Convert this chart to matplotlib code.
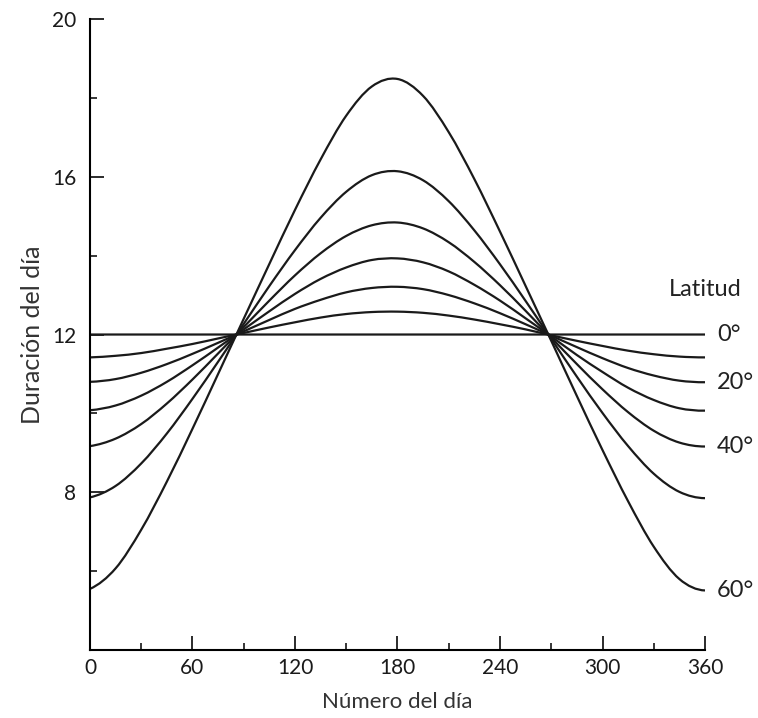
import matplotlib
matplotlib.use("Agg")
import matplotlib.pyplot as plt
from matplotlib.path import Path
from matplotlib.patches import PathPatch

plt.rcParams['font.family'] = ['Lato', 'DejaVu Sans']

# dias del año (cada 15 dias)
dias = [0, 15, 30, 45, 60, 75, 90, 105, 120, 135, 150, 165, 180,
        195, 210, 225, 240, 255, 270, 285, 300, 315, 330, 345, 360]

# duracion del dia (horas), por latitud
lat_0 = [12.0] * 25
lat_10 = [11.42, 11.46, 11.53, 11.64, 11.76, 11.90, 12.04, 12.18, 12.31, 12.43, 12.52, 12.57, 12.58,
          12.55, 12.48, 12.38, 12.26, 12.13, 11.98, 11.84, 11.71, 11.59, 11.50, 11.44, 11.42]
lat_20 = [10.80, 10.87, 11.03, 11.25, 11.51, 11.79, 12.08, 12.37, 12.65, 12.88, 13.07, 13.18, 13.21,
          13.15, 13.00, 12.79, 12.54, 12.26, 11.97, 11.68, 11.40, 11.15, 10.96, 10.83, 10.79]
lat_30 = [10.08, 10.20, 10.45, 10.80, 11.22, 11.67, 12.13, 12.59, 13.03, 13.41, 13.70, 13.89, 13.93,
          13.83, 13.60, 13.26, 12.86, 12.41, 11.95, 11.48, 11.05, 10.65, 10.34, 10.13, 10.07]
lat_40 = [9.17, 9.36, 9.73, 10.25, 10.86, 11.52, 12.19, 12.86, 13.50, 14.06, 14.50, 14.77, 14.84,
          14.69, 14.34, 13.84, 13.25, 12.60, 11.92, 11.25, 10.61, 10.03, 9.56, 9.26, 9.16]
lat_50 = [7.87, 8.16, 8.73, 9.49, 10.37, 11.31, 12.27, 13.23, 14.14, 14.96, 15.62, 16.04, 16.14,
          15.91, 15.38, 14.64, 13.78, 12.85, 11.89, 10.93, 10.01, 9.17, 8.47, 8.01, 7.85]
lat_60 = [5.55, 6.07, 7.05, 8.27, 9.61, 11.00, 12.40, 13.79, 15.16, 16.44, 17.55, 18.29, 18.48,
          18.05, 17.13, 15.94, 14.61, 13.23, 11.84, 10.44, 9.07, 7.77, 6.62, 5.80, 5.51]

curvas = [lat_0, lat_10, lat_20, lat_30, lat_40, lat_50, lat_60]
etiquetas = {0: "0°", 2: "20°", 4: "40°", 6: "60°"}


def curva_suave(xs, ys):
    # trazo bezier que pasa por los puntos leidos (catmull-rom)
    pts = list(zip(xs, ys))
    n = len(pts)
    # puntos fantasma en los extremos (tangente cuadratica)
    ini = tuple(3 * pts[0][k] - 3 * pts[1][k] + pts[2][k] for k in range(2))
    fin = tuple(3 * pts[-1][k] - 3 * pts[-2][k] + pts[-3][k] for k in range(2))
    ext = [ini] + pts + [fin]
    verts = [pts[0]]
    codes = [Path.MOVETO]
    for i in range(1, n):
        p0, p1, p2, p3 = ext[i - 1], ext[i], ext[i + 1], ext[i + 2]
        c1 = (p1[0] + (p2[0] - p0[0]) / 6, p1[1] + (p2[1] - p0[1]) / 6)
        c2 = (p2[0] - (p3[0] - p1[0]) / 6, p2[1] - (p3[1] - p1[1]) / 6)
        verts += [c1, c2, p2]
        codes += [Path.CURVE4] * 3
    return Path(verts, codes)


fig = plt.figure(figsize=(7.58, 7.18), dpi=100)
ax = fig.add_axes([0.1187, 0.0947, 0.8114, 0.8788])

for i, c in enumerate(curvas):
    ax.add_patch(PathPatch(curva_suave(dias, c), fill=False, edgecolor="#1a1a1a",
                           lw=1.6, capstyle="butt"))
    if i in etiquetas:
        ax.text(367, c[-1], etiquetas[i], fontsize=17, ha="left", va="center",
                color="#222222", clip_on=False)

ax.text(360, 13.15, "Latitud", fontsize=17, ha="center", va="center",
        color="#222222", clip_on=False)

ax.set_xlim(0, 360)
ax.set_ylim(4, 20)
ax.set_xticks(range(0, 361, 60))
ax.set_xticks(range(30, 361, 60), minor=True)
ax.set_yticks([8, 12, 16, 20])
ax.set_yticks([6, 10, 14, 18], minor=True)

ax.spines['top'].set_visible(False)
ax.spines['right'].set_visible(False)
ax.spines['left'].set_linewidth(1.5)
ax.spines['bottom'].set_linewidth(1.5)

ax.tick_params(axis='both', which='major', direction='in', length=10, width=1.3,
               labelsize=15, colors="#1a1a1a")
ax.tick_params(axis='both', which='minor', direction='in', length=5, width=1.1)
ax.tick_params(axis='x', pad=6)
ax.tick_params(axis='y', pad=10)

ax.set_xlabel("Número del día", fontsize=16, color="#333333", labelpad=10)
ax.set_ylabel("Duración del día", fontsize=18, color="#333333", labelpad=6)

fig.savefig("out.png", dpi=100)
